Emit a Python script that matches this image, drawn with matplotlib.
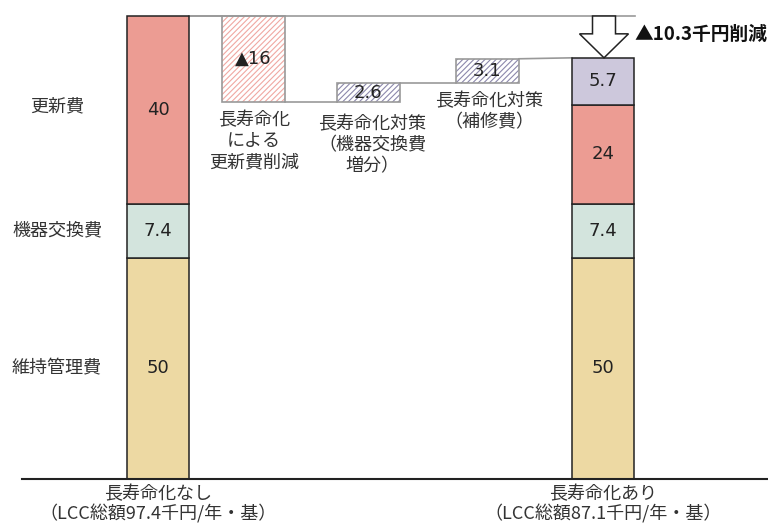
import matplotlib
matplotlib.use("Agg")
import matplotlib.pyplot as plt
from matplotlib.patches import FancyArrow

plt.rcParams['font.family'] = ['Noto Sans CJK JP', 'DejaVu Sans']
plt.rcParams['hatch.linewidth'] = 0.8

# ---- data ----
categories = ['長寿命化なし\n（LCC総額97.4千円/年・基）', '長寿命化あり\n（LCC総額87.1千円/年・基）']
segment_names = ['維持管理費', '機器交換費', '更新費']
# drawn heights (as they appear in the reference, not to scale with labels)
left_heights = [46.5, 11.4, 39.5]
left_labels = ['50', '7.4', '40']
right_heights = [46.5, 11.4, 20.8, 9.9]
right_labels = ['50', '7.4', '24', '5.7']
seg_colors = ['#EDD9A3', '#D3E4DD', '#EC9C93', '#CDC8DC']

step_heights = [-18.1, 4.0, 5.1]
step_labels = ['▲16', '2.6', '3.1']
step_texts = ['長寿命化\nによる\n更新費削減', '長寿命化対策\n（機器交換費\n増分）', '長寿命化対策\n（補修費）']
step_hatch_colors = ['#F0A8A2', '#8C88AC']
reduction_text = '▲10.3千円削減'

# ---- layout ----
W, H = 768, 527
s = 463 / 97.4  # px per unit
fig = plt.figure(figsize=(W / 100, H / 100), dpi=100)
ax = fig.add_axes([0, 0, 1, 1])
ax.set_xlim(0, W)
ax.set_ylim(-(H - 479) / s, 479 / s)
ax.axis('off')

bar_x = [158, 603]
bar_w = 62
num_font = dict(fontsize=13, color='#222222')

# main stacked bars
for xc, heights, labels in [(bar_x[0], left_heights, left_labels), (bar_x[1], right_heights, right_labels)]:
    bottom = 0
    for i, (h, lab) in enumerate(zip(heights, labels)):
        ax.bar(xc, h, bar_w, bottom=bottom, color=seg_colors[i], edgecolor='#222222', linewidth=1.1, zorder=3)
        ax.text(xc, bottom + h / 2, lab, ha='center', va='center', zorder=4,
                family=['DejaVu Sans'], **num_font)
        bottom += h

left_total = sum(left_heights)
right_total = sum(right_heights)

# waterfall steps
step_x = [253.5, 368, 487.5]
step_w = 63
level = left_total
prev_right = bar_x[0] + bar_w / 2
for i, (dh, lab) in enumerate(zip(step_heights, step_labels)):
    lo, hi = min(level, level + dh), max(level, level + dh)
    hc = step_hatch_colors[0] if i == 0 else step_hatch_colors[1]
    ax.bar(step_x[i], hi - lo, step_w, bottom=lo, color='white', edgecolor=hc,
           hatch='//////', linewidth=0, zorder=2)
    ax.bar(step_x[i], hi - lo, step_w, bottom=lo, fill=False, edgecolor='#999999',
           linewidth=1.2, zorder=3)
    ax.text(step_x[i], (lo + hi) / 2, lab, ha='center', va='center', zorder=4,
            family=['DejaVu Sans', 'Noto Sans CJK JP'], **num_font)
    ax.plot([prev_right, step_x[i] - step_w / 2], [level, level], color='#999999', lw=1.2, zorder=2)
    level = level + dh
    prev_right = step_x[i] + step_w / 2
ax.plot([prev_right, bar_x[1] - bar_w / 2], [level, right_total], color='#999999', lw=1.2, zorder=2)

# top reference line
ax.plot([bar_x[0] + bar_w / 2, 635], [left_total, left_total], color='#999999', lw=1.2, zorder=2)

# step descriptions
jp_font = dict(fontsize=13, color='#333333', linespacing=1.22)
lvl1 = left_total + step_heights[0]
lvl2 = lvl1 + step_heights[1]
ax.text(254, lvl1 - 9 / s, step_texts[0], ha='center', va='top', **jp_font)
ax.text(372, lvl1 - 13 / s, step_texts[1], ha='center', va='top', **jp_font)
ax.text(489, lvl2 - 9 / s, step_texts[2], ha='center', va='top', **jp_font)

# segment name labels
for name, yc in zip(segment_names, [left_heights[0] / 2,
                                     left_heights[0] + left_heights[1] / 2,
                                     left_heights[0] + left_heights[1] + 97 / s]):
    ax.text(57, yc, name, ha='center', va='center', **jp_font)

# arrow
head_len = 24 / s
ax.add_patch(FancyArrow(604, left_total, 0, -(left_total - right_total), width=23,
                        head_width=49, head_length=head_len, length_includes_head=True,
                        facecolor='white', edgecolor='#222222', linewidth=1.1, zorder=5))
ax.text(634, left_total - 18 / s, reduction_text, ha='left', va='center',
        fontsize=13.5, fontweight='bold', color='#111111',
        family=['Noto Sans CJK JP', 'DejaVu Sans'])

# baseline
ax.plot([22, W], [0, 0], color='#222222', lw=1.5, zorder=4)

# category labels
for xc, cat in zip(bar_x, categories):
    ax.text(xc, -6 / s, cat, ha='center', va='top', fontsize=13, color='#333333', linespacing=1.12)

fig.savefig('out.png', dpi=100)
